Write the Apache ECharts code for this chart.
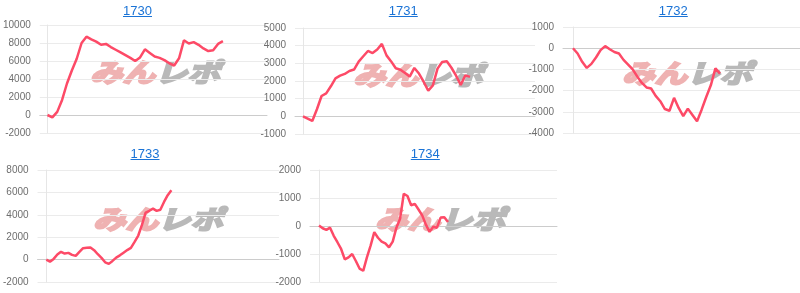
<!DOCTYPE html>
<html>
<head>
<meta charset="utf-8">
<script src="https://cdn.jsdelivr.net/npm/echarts@6/dist/echarts.min.js"></script>
<style>html,body{margin:0;padding:0;background:#fff;}#c{width:800px;height:293px;}</style>
</head>
<body>
<div id="c"></div>
<script>
// ---- data ----
const titles = ['1730', '1731', '1732', '1733', '1734'];
const s1730 = [0, -260, 350, 1670, 3500, 4950, 6250, 8000, 8700, 8400, 8150, 7800, 7900, 7550, 7250, 6950, 6650, 6350, 6000, 6400, 7300, 6900, 6500, 6350, 6100, 5750, 5500, 6300, 8300, 7950, 8100, 7800, 7400, 7100, 7200, 7900, 8200];
const s1731 = [0, -130, -260, 400, 1150, 1300, 1700, 2150, 2300, 2400, 2570, 2650, 3100, 3400, 3700, 3580, 3780, 4100, 3450, 3110, 2720, 2640, 2450, 2250, 2740, 2420, 1960, 1450, 1750, 2700, 3080, 3120, 2750, 2300, 1780, 2320, 2230];
const s1732 = [0, -250, -640, -930, -740, -440, -90, 100, -50, -180, -250, -550, -770, -1000, -1340, -1640, -1850, -1900, -2250, -2500, -2870, -2950, -2340, -2820, -3200, -2850, -3150, -3450, -2900, -2300, -1750, -950, -1200];
const s1733 = [0, -180, 60, 450, 700, 540, 600, 420, 330, 690, 1020, 1050, 1080, 840, 480, 150, -240, -380, -120, 180, 380, 620, 850, 1050, 1580, 2150, 3100, 4200, 4360, 4550, 4350, 4450, 5150, 5750, 6200];
const s1734 = [20, -80, -140, -60, -350, -580, -820, -1190, -1120, -1000, -1250, -1520, -1600, -1120, -700, -220, -420, -560, -620, -760, -560, -60, 260, 1150, 1070, 740, 790, 590, 380, 50, -210, -30, -60, 300, 310, 140];
const seriesValues = [s1730, s1731, s1732, s1733, s1734];
const yMin = [-2000, -1000, -4000, -2000, -2000];
const yMax = [10000, 5000, 1000, 8000, 2000];
const yStep = [2000, 1000, 1000, 2000, 1000];

// ---- layout (pixels) ----
const layout = [
  {left: 30,  right: 267, top: 25,  height: 108, x0: 38,  x1: 221, tx: 137.5, ty: 5},
  {left: 295, right: 535, top: 28,  height: 106, x0: 303, x1: 470, tx: 403.3, ty: 5},
  {left: 563, right: 800, top: 27,  height: 106, x0: 573, x1: 720, tx: 673.3, ty: 5},
  {left: 30,  right: 279, top: 170, height: 112, x0: 39,  x1: 168, tx: 145,   ty: 148},
  {left: 310, right: 557, top: 170, height: 112, x0: 319, x1: 448, tx: 425.3, ty: 148}
];
const marks = [[155, 72], [418, 75], [687, 73], [158, 219], [440, 219]];

const LINE = '#fd4a67';
const FONT = '"Liberation Sans", Arial, sans-serif';
const MARKFONT = 'italic bold 26px "Noto Sans CJK JP"';

const grid = [], xAxis = [], yAxis = [], series = [], title = [], graphic = [];
layout.forEach((L, k) => {
  const n = seriesValues[k].length;
  const ppu = (L.x1 - L.x0) / (n - 1);
  grid.push({left: L.left, width: L.right - L.left, top: L.top, height: L.height, containLabel: false});
  xAxis.push({
    type: 'value', gridIndex: k,
    min: -(L.x0 - L.left) / ppu, max: (L.right - L.x0) / ppu,
    axisLine: {show: true, onZero: true, lineStyle: {color: '#cccccc', width: 1}},
    axisTick: {show: false}, axisLabel: {show: false}, splitLine: {show: false}
  });
  yAxis.push({
    type: 'value', gridIndex: k, min: yMin[k], max: yMax[k], interval: yStep[k],
    axisLine: {show: true, onZero: true, lineStyle: {color: '#e6e6e6'}},
    axisTick: {show: false},
    axisLabel: {color: '#6e6e6e', fontSize: 10, fontFamily: FONT, margin: 9, formatter: v => String(v)},
    splitLine: {show: true, lineStyle: {color: '#ebebeb', width: 1}}
  });
  series.push({
    type: 'line', xAxisIndex: k, yAxisIndex: k, z: 5,
    data: seriesValues[k].map((v, i) => [i, v]),
    showSymbol: false, symbol: 'none',
    lineStyle: {color: LINE, width: 2.5}, itemStyle: {color: LINE},
    animation: false
  });
  title.push({
    text: titles[k], left: L.tx, top: L.ty, textAlign: 'center', padding: 0,
    textStyle: {color: '#1a73d6', fontSize: 13, fontWeight: 'normal', fontFamily: FONT}
  });
  const uy = L.ty + 11.5;
  graphic.push({
    type: 'line', z: 10, silent: true,
    shape: {x1: L.tx - 14.5, y1: uy, x2: L.tx + 14.5, y2: uy},
    style: {stroke: '#1a73d6', lineWidth: 1}
  });
  const m = marks[k];
  graphic.push({
    type: 'group', x: m[0], y: m[1], scaleX: 1.25, z: 1, silent: true,
    children: [
      {type: 'text', x: 0, y: 0, style: {text: 'みん', fill: '#efb2b2', stroke: '#efb2b2', lineWidth: 2.2, font: MARKFONT, textAlign: 'right', textVerticalAlign: 'middle'}},
      {type: 'text', x: 0, y: 0, style: {text: 'レポ', fill: '#b9b9b9', stroke: '#b9b9b9', lineWidth: 2.2, font: MARKFONT, textAlign: 'left', textVerticalAlign: 'middle'}}
    ]
  });
});

const chart = echarts.init(document.getElementById('c'), null, {renderer: 'canvas'});
chart.setOption({animation: false, title, grid, xAxis, yAxis, series, graphic});
</script>
</body>
</html>
